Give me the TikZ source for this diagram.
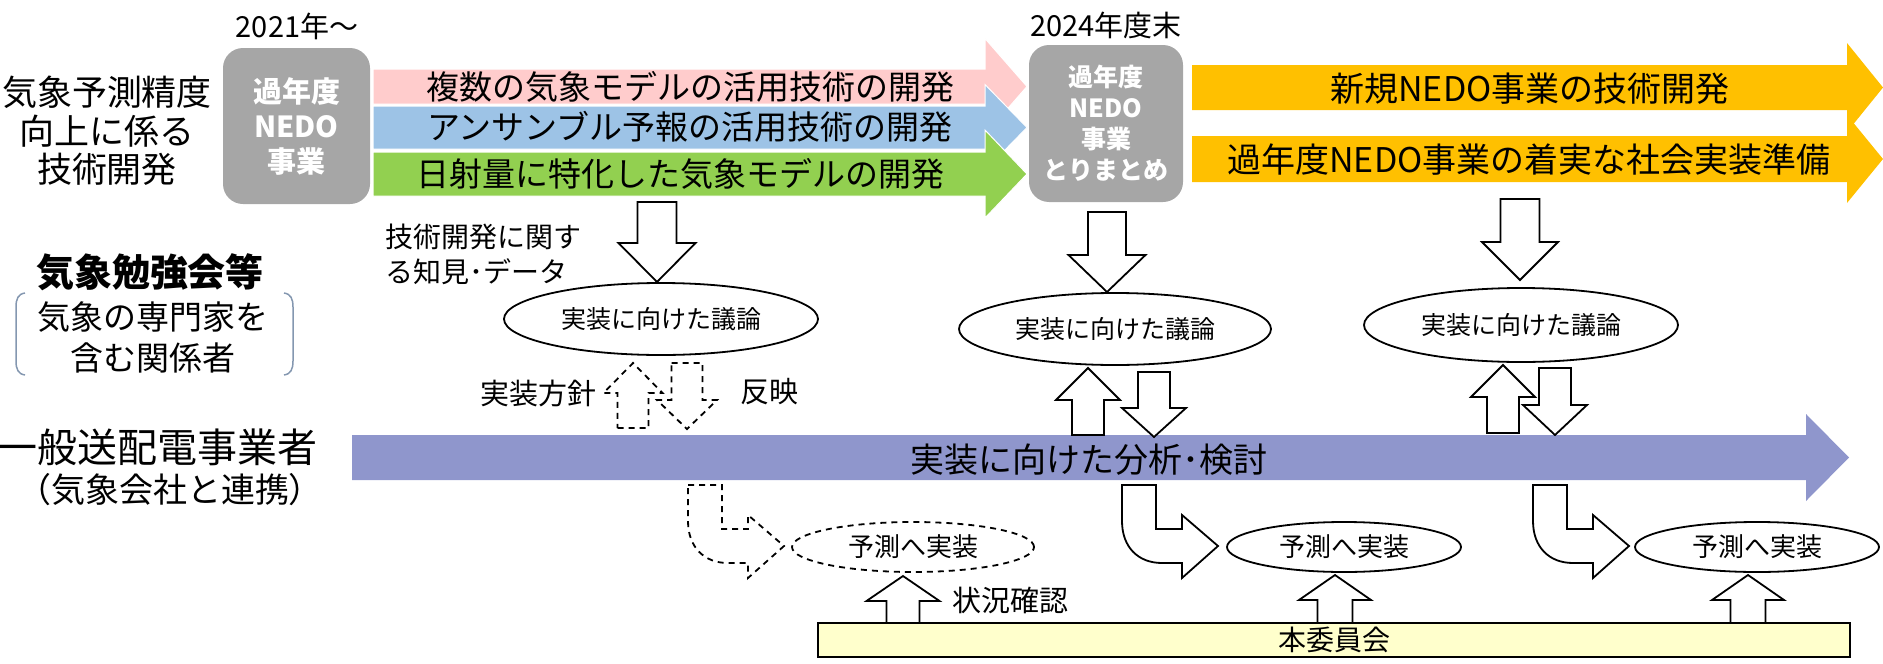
\documentclass[tikz,border=0pt]{standalone}
\usepackage{fontspec}
\setmainfont{Noto Sans CJK JP}
\usetikzlibrary{shapes.geometric}
\definecolor{boxgray}{HTML}{A6A6A6}
\definecolor{pinkband}{HTML}{FFCCCC}
\definecolor{blueband}{HTML}{9DC3E6}
\definecolor{greenband}{HTML}{92D050}
\definecolor{orangeband}{HTML}{FFC000}
\definecolor{purpleband}{RGB}{143,150,204}
\definecolor{yellowbox}{HTML}{FFFFCC}
\definecolor{bracketcol}{HTML}{8497B0}
\newcommand{\fsz}[2]{\fontsize{#1}{#2}\selectfont}
% block arrow: [opts]{cx}{tail y}{head base y}{tip y}{shaft half}{head half}
\newcommand{\blockarrow}[7][]{%
  \draw[blockarr,#1] ({#2-#6},#3) -- ({#2+#6},#3) -- ({#2+#6},#4) -- ({#2+#7},#4)
    -- (#2,#5) -- ({#2-#7},#4) -- ({#2-#6},#4) -- cycle;}
% bent arrow: [opts]{x0}
\newcommand{\bentarrow}[2][]{%
  \draw[blockarr,#1] (#2,485) -- ({#2+34},485) -- ({#2+34},529) -- ({#2+60},529)
    -- ({#2+60},515) -- ({#2+96},546) -- ({#2+60},578) -- ({#2+60},563) -- ({#2+40},563)
    .. controls ({#2+16},563) and (#2,547) .. (#2,521) -- cycle;}
% band arrow: {style}{x1}{x base}{x tip}{y top}{y bottom}{head half}
\newcommand{\bandarrow}[7]{%
  \path[#1] (#2,#5) -- (#3,#5) -- (#3,{(#5+#6)/2-#7}) -- (#4,{(#5+#6)/2})
    -- (#3,{(#5+#6)/2+#7}) -- (#3,#6) -- (#2,#6) -- cycle;}
\begin{document}
\begin{tikzpicture}[x=1pt,y=-1pt,
  blockarr/.style={draw=black,fill=white,line width=1.8pt,line join=miter},
  dashedarr/.style={dashed,dash pattern=on 6pt off 5pt},
  graybox/.style={fill=boxgray,rounded corners=20pt,text=white,align=center,inner sep=0pt,
    font=\bfseries},
  ell/.style={ellipse,draw=black,fill=white,line width=1.8pt,inner sep=0pt},
  txt/.style={inner sep=0pt,align=center},
]
\useasboundingbox (0,0) rectangle (1883,664);

% ---------- coloured band arrows ----------
\bandarrow{fill=pinkband,draw=white,line width=1pt}{373}{985}{1027}{69}{104}{48}
\bandarrow{fill=blueband,draw=white,line width=1pt}{373}{985}{1027}{106}{149}{43}
\bandarrow{fill=greenband,draw=white,line width=1pt}{373}{985}{1027}{152}{196}{44}
\bandarrow{fill=orangeband}{1192}{1847}{1883}{65}{110}{44.5}
\bandarrow{fill=orangeband}{1192}{1847}{1883}{136}{182}{44}
\bandarrow{fill=purpleband}{352}{1806}{1849}{435}{480}{43.5}

\node[txt,font=\fsz{33}{40}] (t1) at (690,87) {複数の気象モデルの活用技術の開発};
\node[txt,font=\fsz{33}{40}] (t2) at (690,127) {アンサンブル予報の活用技術の開発};
\node[txt,font=\fsz{33}{40}] (t3) at (680,174) {日射量に特化した気象モデルの開発};
\node[txt,font=\fsz{34}{40}] (t4) at (1530,89) {新規NEDO事業の技術開発};
\node[txt,font=\fsz{34}{40}] (t5) at (1529,160) {過年度NEDO事業の着実な社会実装準備};
\node[txt,font=\fsz{34}{40}] (bunseki) at (1089,460) {実装に向けた分析･検討};

% ---------- grey boxes ----------
\node[graybox,minimum width=147pt,minimum height=156pt,font=\bfseries\fsz{29}{35}] (box1) at (296.5,126) {過年度\\NEDO\\事業};
\node[graybox,minimum width=154pt,minimum height=157pt,font=\bfseries\fsz{25}{31}] (box2) at (1106,123.5) {過年度\\NEDO\\事業\\とりまとめ};
\node[txt,font=\fsz{29}{34}] (y2021) at (297,26) {2021年～};
\node[txt,font=\fsz{29}{34}] (y2024) at (1106,25) {2024年度末};

% ---------- left column ----------
\node[txt,font=\fsz{35}{38.5}] (lab1) at (107,131) {気象予測精度\\向上に係る\\技術開発};
\node[txt,font=\bfseries\fsz{38}{44}] (lab2) at (150,272) {気象勉強会等};
\node[txt,font=\fsz{33}{41}] (lab3) at (153,337) {気象の専門家を\\含む関係者};
\draw[bracketcol,line width=1.5pt] (25,293) .. controls (18,294) and (16,299) .. (16,307) -- (16,361)
  .. controls (16,369) and (18,374) .. (25,375);
\draw[bracketcol,line width=1.5pt] (284,293) .. controls (291,294) and (293,299) .. (293,307) -- (293,361)
  .. controls (293,369) and (291,374) .. (284,375);
\node[txt,font=\fsz{40}{46}] (lab4) at (158,447) {一般送配電事業者};
\node[txt,font=\fsz{34}{40}] (lab5) at (170,490) {（気象会社と連携）};

% ---------- downward arrows into discussions ----------
\blockarrow{657}{202}{243}{282}{19.5}{38.5}
\blockarrow{1107}{212}{255}{292}{19}{38.5}
\blockarrow{1520}{199}{242}{280}{19.5}{38}

% ---------- discussion ellipses ----------
\node[ell,minimum width=314pt,minimum height=72pt,font=\fsz{25}{30}] (ell1) at (661,319) {実装に向けた議論};
\node[ell,minimum width=312pt,minimum height=72pt,font=\fsz{25}{30}] (ell2) at (1115,329) {実装に向けた議論};
\node[ell,minimum width=314pt,minimum height=74pt,font=\fsz{25}{30}] (ell3) at (1521,325) {実装に向けた議論};

\node[txt,font=\fsz{28}{35},align=left,anchor=west] (chiken) at (385,254.5) {技術開発に関す\\る知見･データ};

% ---------- dashed up/down pair ----------
\blockarrow[dashedarr]{633}{428}{393}{363}{15.5}{29.5}
\blockarrow[dashedarr]{687}{363}{400}{429}{15.5}{30}
\node[txt,font=\fsz{29}{35},anchor=east] (hoshin) at (597,393) {実装方針};
\node[txt,font=\fsz{29}{35},anchor=west] (hanei) at (740,392) {反映};

% ---------- solid up/down pairs ----------
\blockarrow{1088}{435}{400}{368}{16}{32}
\blockarrow{1154}{372}{408}{437}{16}{32}
\blockarrow{1503}{433}{397}{365}{16}{32}
\blockarrow{1555}{368}{405}{435}{16}{32}

% ---------- bent arrows to implementation ----------
\bentarrow[dashedarr]{688}
\bentarrow{1122}
\bentarrow{1533}

\node[ell,dashedarr,minimum width=242pt,minimum height=50pt,font=\fsz{26}{30}] (impl1) at (913,547) {予測へ実装};
\node[ell,minimum width=234pt,minimum height=50pt,font=\fsz{26}{30}] (impl2) at (1344,547) {予測へ実装};
\node[ell,minimum width=244pt,minimum height=50pt,font=\fsz{26}{30}] (impl3) at (1757,547) {予測へ実装};

% ---------- committee ----------
\node[draw=black,fill=yellowbox,line width=1.5pt,minimum width=1032pt,minimum height=34pt,inner sep=0pt,font=\fsz{28}{32}] (honi) at (1334,640) {本委員会};
\blockarrow{903}{623}{601}{576}{16.5}{36.5}
\blockarrow{1335}{623}{600}{575}{17.5}{36}
\blockarrow{1748}{623}{600}{575}{17.5}{36}
\node[txt,font=\fsz{29}{35},anchor=west] (jokyo) at (952,600) {状況確認};

\end{tikzpicture}
\end{document}
